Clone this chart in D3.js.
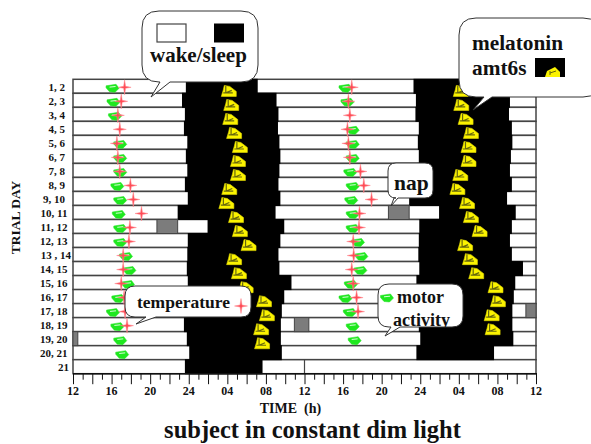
<!DOCTYPE html>
<html>
<head>
<meta charset="utf-8">
<style>
    html, body { margin: 0; padding: 0; background: white; }
    svg { display: block; }
    text { font-family: "Liberation Serif", "Times New Roman", serif; font-weight: bold; fill: #111; }
</style>
<script src="https://cdn.jsdelivr.net/npm/d3@7"></script>
</head>
<body>
<svg id="chart" width="591" height="444"></svg>
<script>
// time runs on as hours from noon of the first day: 12 .. 60
const dayLabels = ["1, 2", "2, 3", "3, 4", "4, 5", "5, 6", "6, 7", "7, 8", "8, 9", "9, 10", "10, 11", "11, 12",
    "12, 13", "13 , 14", "14, 15", "15, 16", "16, 17", "17, 18", "18, 19", "19, 20", "20, 21", "21"];
const hourLabels = ["12", "16", "20", "24", "04", "08", "12", "16", "20", "24", "04", "08", "12"];

const sleepOn1 = [23.7, 23.3, 23.6, 23.5, 23.85, 23.7, 23.85, 23.6, 23.9, 22.85, 25.95, 23.9, 23.85, 23.8, 23.9, 23.8, 23.8, 23.5, 23.8, 24.05, 23.6];
const sleepOff1 = [31.15, 33.1, 33.3, 33.25, 33.4, 33.5, 33.4, 33.3, 33.5, 33.0, 33.9, 33.5, 33.3, 33.4, 34.65, 33.9, 33.65, 33.55, 33.55, 33.65, 31.65];
const sleepOn2 = [47.3, 47.55, 47.5, 47.85, 47.75, 47.85, 47.65, 47.65, 46.85, 49.95, 47.9, 47.85, 47.8, 47.9, 47.6, 47.55, 47.55, 47.85, 48.0, 47.6];
const sleepOff2 = [57.3, 57.3, 57.2, 57.5, 57.55, 57.4, 57.3, 57.5, 57.0, 57.9, 57.5, 57.3, 57.5, 58.65, 57.85, 57.7, 57.55, 57.55, 57.65, 55.65];

const napRows = [9, 10, 16, 17, 18];
const napStart = [44.7, 20.7, 58.95, 34.95, 12];
const napEnd = [46.85, 22.85, 60, 36.45, 12.5];

const melatonin1 = [28.15, 28.4, 28.3, 28.7, 29.3, 29.1, 29.1, 28.2, 27.9, 28.9, 29.3, 30.2, 28.7, 29.2, 29.9, 31.8, 32.1, 31.5, 31.6];
const melatonin2 = [52.2, 52.25, 52.7, 53.25, 53.0, 53.0, 52.15, 51.85, 52.85, 53.25, 54.15, 52.65, 53.15, 53.8, 55.8, 56.05, 55.4, 55.5];
const motor1 = [16.1, 16.2, 16.35, null, 16.9, 16.9, 16.9, 16.6, 16.9, 16.75, 16.9, 16.9, 17.5, 17.85, 17.7, 16.7, 16.15, 16.6, 16.9, 17.1];
const motor2 = [40.25, 40.45, null, 41.0, 41.0, 41.0, 40.75, 41.0, 40.85, 41.0, 41.0, 41.55, 41.9, 41.8, 40.8, 40.25, 40.7, 41.0, 41.2];
const temp1 = [17.35, 17.0, 16.65, 16.85, 16.55, 16.65, 16.85, 17.95, 18.25, 19.1, 17.9, 17.8, 17.2, 17.2, 17.0, 17.3, 17.4, 17.6];
const temp2 = [40.9, 40.55, 40.7, 40.45, 40.55, 40.7, 41.8, 42.15, 42.95, 41.7, 41.65, 41.05, 41.1, 40.9, 41.05, 41.4, 41.55];

const svg = d3.select("#chart");
const x = d3.scaleLinear().domain([12, 60]).range([73, 536]);
const y = d3.scaleBand().domain(d3.range(dayLabels.length)).range([79.3, 373.7]);
const lineColor = "#444";

// wake bars, one row at a time, then sleep and nap over them
let rows = svg.append("g");
rows.selectAll("rect.wake").data(dayLabels).enter().append("rect")
    .attr("class", "wake")
    .attr("x", x(12)).attr("width", x(60) - x(12))
    .attr("y", (d, i) => y(i)).attr("height", y.bandwidth())
    .attr("fill", "white").attr("stroke", lineColor).attr("stroke-width", 1.5);

function sleepBars(on, off) {
    rows.selectAll(null).data(on).enter().append("rect")
        .attr("x", d => x(d))
        .attr("width", (d, i) => x(off[i]) - x(d))
        .attr("y", (d, i) => y(i) - 0.5)
        .attr("height", y.bandwidth() + 1)
        .attr("fill", "black");
}
sleepBars(sleepOn1, sleepOff1);
sleepBars(sleepOn2, sleepOff2);

rows.selectAll(null).data(napRows).enter().append("rect")
    .attr("x", (d, i) => x(napStart[i]))
    .attr("width", (d, i) => x(napEnd[i]) - x(napStart[i]))
    .attr("y", d => y(d)).attr("height", y.bandwidth())
    .attr("fill", "#7c7c7c").attr("stroke", "#444").attr("stroke-width", 1);

// the tick at noon in the last row
rows.append("line")
    .attr("x1", x(36)).attr("x2", x(36))
    .attr("y1", y(20)).attr("y2", y(20) + y.bandwidth())
    .attr("stroke", lineColor).attr("stroke-width", 1.2);

// marker shapes
const greenPath = "M-6.5,-2.5 L3.5,-4 L6.5,0 L2.5,4 L-3,3.5 L-6.5,-0.5 Z";
const greenInner = "M-3,-1.2 L3,-1.8";
const starPath = "M0,-7.5 L1,-1 L6.5,0 L1,1 L0,7.5 L-1,1 L-6.5,0 L-1,-1 Z";
const yellowPath = "M-7.5,5.5 L-5.5,-1 L-4.5,-5.5 L1,-4.5 L7.5,0.5 L7.5,5.5 Z";
const yellowInner = "M-3,-5 L-3,2 M-3,2 L3,-0.5 M-5.5,2 L4,2";

function drawYellow(g) {
    g.append("path").attr("d", yellowPath).attr("fill", "#fbf300").attr("stroke", "#e0d800").attr("stroke-width", 0.6);
    g.append("path").attr("d", yellowInner).attr("fill", "none").attr("stroke", "#66660c").attr("stroke-width", 1.2);
}
function drawGreen(g) {
    g.append("path").attr("d", greenPath).attr("fill", "#1fe81f").attr("stroke", "#20e020").attr("stroke-width", 0.5);
    g.append("path").attr("d", greenInner).attr("fill", "none").attr("stroke", "#d8ffd8").attr("stroke-width", 1);
}
function drawStar(g) {
    g.append("path").attr("d", starPath).attr("fill", "#ff4a55").attr("stroke", "#ff8a90").attr("stroke-width", 0.5);
}

function markers(values, dy, draw) {
    values.forEach((v, i) => {
        if (v == null) return;
        let g = svg.append("g")
            .attr("transform", `translate(${x(v)},${y(i) + y.bandwidth() / 2 + dy})`);
        draw(g);
    });
}
markers(melatonin1, 4.6, drawYellow);
markers(melatonin2, 4.6, drawYellow);
markers(motor1, 2, drawGreen);
markers(motor2, 2, drawGreen);
markers(temp1, 1, drawStar);
markers(temp2, 1, drawStar);

// axes
let axisG = svg.append("g").attr("transform", `translate(0,${y.range()[1]})`);
axisG.call(d3.axisBottom(x).tickValues(d3.range(12, 61)).tickSize(-6.5).tickFormat(""));
axisG.call(g => g.select(".domain").remove());
axisG.selectAll(".tick line").attr("stroke", "#111").attr("stroke-width", 1)
    .attr("y1", 0).attr("y2", d => (d % 2 == 0 ? 10.5 : 6));
axisG.append("line").attr("x1", x(12)).attr("x2", x(60) + 1).attr("stroke", "#111").attr("stroke-width", 1.4);

const labelHours = d3.range(12, 61, 4);
svg.append("g").selectAll("text").data(labelHours).enter().append("text")
    .attr("x", d => x(d)).attr("y", 395)
    .attr("text-anchor", "middle").attr("font-size", 12)
    .text((d, i) => hourLabels[i]);

let yAxis = svg.append("g").attr("transform", "translate(66,0)")
    .call(d3.axisLeft(y).tickSize(0).tickPadding(0).tickFormat(i => dayLabels[i]));
yAxis.select(".domain").remove();
yAxis.selectAll("text").attr("font-size", 11).attr("fill", "#111").attr("font-family", null)
    .attr("y", 1)
    .attr("dx", (d, i) => (i == 12 ? 5 : i == 20 ? 3 : i >= 9 ? 1.5 : -1));

svg.append("text").attr("transform", "translate(20,217.5) rotate(-90)")
    .attr("text-anchor", "middle").attr("font-size", 13.5).text("TRIAL DAY");
svg.append("text").attr("x", 290.5).attr("y", 413)
    .attr("text-anchor", "middle").attr("font-size", 14).attr("xml:space", "preserve").text("TIME  (h)");
svg.append("text").attr("x", 312.5).attr("y", 438)
    .attr("text-anchor", "middle").attr("font-size", 24.5).text("subject in constant dim light");

// callouts
function bubble(x0, y0, x1, y1, r, tail) {
    let d = `M${x0 + r},${y0} H${x1 - r} Q${x1},${y0} ${x1},${y0 + r} V${y1 - r} Q${x1},${y1} ${x1 - r},${y1}
        H${tail[2]} L${tail[0]},${tail[1]} L${tail[3]},${y1} H${x0 + r} Q${x0},${y1} ${x0},${y1 - r} V${y0 + r} Q${x0},${y0} ${x0 + r},${y0} Z`;
    svg.append("path").attr("d", d).attr("fill", "white").attr("stroke", "#333").attr("stroke-width", 1);
}
function label(str, lx, ly, size) {
    return svg.append("text").attr("x", lx).attr("y", ly).attr("font-size", size).text(str);
}
function legendMark(draw, mx, my) {
    draw(svg.append("g").attr("transform", `translate(${mx},${my})`));
}

bubble(142, 11, 258, 82, 17, [151, 97, 170, 160]);
svg.append("rect").attr("x", 157).attr("y", 24).attr("width", 29).attr("height", 18).attr("fill", "white").attr("stroke", "#444").attr("stroke-width", 1.2);
svg.append("rect").attr("x", 214).attr("y", 23.5).attr("width", 30).attr("height", 19).attr("fill", "black");
label("wake/sleep", 150, 62, 21);

bubble(459, 18, 600, 97, 17, [473, 110, 492, 484]);
label("melatonin", 472, 50, 21.3);
label("amt6s", 472, 75, 21.3);
svg.append("rect").attr("x", 535).attr("y", 58).attr("width", 30).attr("height", 19).attr("fill", "black");
svg.append("path").attr("d", "M545,77 L547,71 L555,67 L560,72 L560,77 Z").attr("fill", "#fbf300");
svg.append("path").attr("d", "M550,71 L550,75 M550,73 L556,71").attr("fill", "none").attr("stroke", "#66660c");

bubble(388, 163, 433, 198, 8, [391, 206, 398, 394]);
label("nap", 394, 190, 21.5);

bubble(125, 286, 251, 317, 10, [136, 324, 156, 146]);
label("temperature", 137, 308, 17.5);
legendMark(drawStar, 241, 306);

bubble(378, 284, 463, 327, 11, [385, 336, 400, 391]);
legendMark(drawGreen, 387, 298);
label("motor", 397, 303, 18);
// the second line runs into the edge of the callout, as it does in the figure
svg.append("clipPath").attr("id", "motorClip").append("rect")
    .attr("x", 378).attr("y", 284).attr("width", 85).attr("height", 43);
label("activity", 393, 326, 18).attr("clip-path", "url(#motorClip)");
</script>
</body>
</html>
